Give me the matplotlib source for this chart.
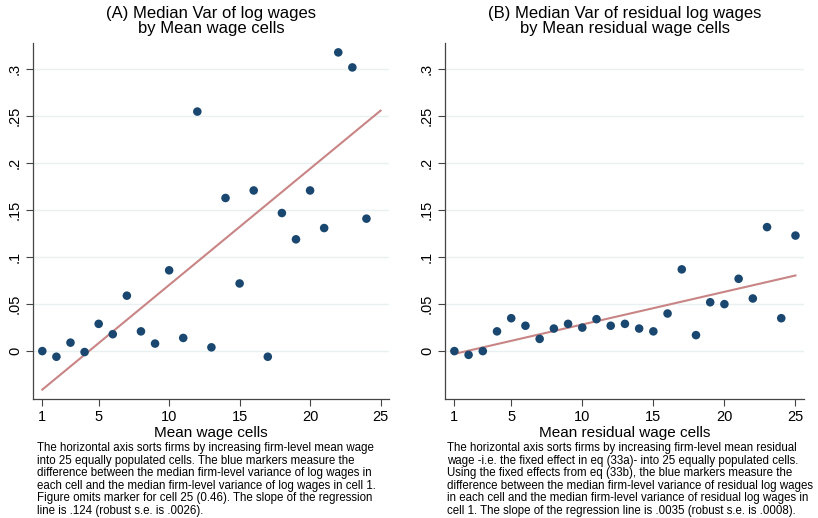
import matplotlib.pyplot as plt

plt.rcParams['font.family'] = ['Liberation Sans', 'DejaVu Sans']

cells_a = list(range(1, 25))
var_a = [0.0, -0.006, 0.009, -0.001, 0.029, 0.018, 0.059, 0.021, 0.008, 0.086,
         0.014, 0.255, 0.004, 0.163, 0.072, 0.171, -0.006, 0.147, 0.119, 0.171,
         0.131, 0.318, 0.302, 0.141]
fit_x_a = [1, 25]
fit_y_a = [-0.041, 0.256]

cells_b = list(range(1, 26))
var_b = [0.0, -0.004, 0.0, 0.021, 0.035, 0.027, 0.013, 0.024, 0.029, 0.025,
         0.034, 0.027, 0.029, 0.024, 0.021, 0.040, 0.087, 0.017, 0.052, 0.050,
         0.077, 0.056, 0.132, 0.035, 0.123]
fit_x_b = [1, 25]
fit_y_b = [-0.003, 0.0805]

xticks = [1, 5, 10, 15, 20, 25]
yticks = [0, 0.05, 0.1, 0.15, 0.2, 0.25, 0.3]
ylabels = ['0', '.05', '.1', '.15', '.2', '.25', '.3']

titles = ['(A) Median Var of log wages\nby Mean wage cells',
          '(B) Median Var of residual log wages\nby Mean residual wage cells']
xlabels = ['Mean wage cells', 'Mean residual wage cells']
notes = [
    "The horizontal axis sorts firms by increasing firm-level mean wage\n"
    "into 25 equally populated cells. The blue markers measure the\n"
    "difference between the median firm-level variance of log wages in\n"
    "each cell and the median firm-level variance of log wages in cell 1.\n"
    "Figure omits marker for cell 25 (0.46). The slope of the regression\n"
    "line is .124 (robust s.e. is .0026).",
    "The horizontal axis sorts firms by increasing firm-level mean residual\n"
    "wage -i.e. the fixed effect in eq (33a)- into 25 equally populated cells.\n"
    "Using the fixed effects from eq (33b), the blue markers measure the\n"
    "difference between the median firm-level variance of residual log wages\n"
    "in each cell and the median firm-level variance of residual log wages in\n"
    "cell 1. The slope of the regression line is .0035 (robust s.e. is .0008).",
]

W, H = 818, 518
fig = plt.figure(figsize=(W / 100, H / 100), dpi=100)

# axes boxes in pixels: left, top, right, bottom
boxes = [(33, 43, 389, 399), (445, 43, 804, 399)]
data = [(cells_a, var_a, fit_x_a, fit_y_a), (cells_b, var_b, fit_x_b, fit_y_b)]
note_x = [37, 447]

for i in range(2):
    l, t, r, b = boxes[i]
    ax = fig.add_axes([l / W, 1 - b / H, (r - l) / W, (b - t) / H])
    cx, vy, fx, fy = data[i]
    for y in yticks:
        ax.axhline(y, color='#e8f0f2', lw=1, zorder=0)
    ax.plot(fx, fy, color='#c98585', lw=1.5, zorder=2)
    ax.scatter(cx, vy, s=38, color='#1a476f', edgecolors='none', zorder=3)
    ax.set_xlim(0.34, 25.6)
    ax.set_ylim(-0.051, 0.328)
    ax.set_xticks(xticks)
    ax.set_yticks(yticks)
    ax.set_yticklabels(ylabels, rotation=90, va='center')
    ax.tick_params(labelsize=10.5, length=5, width=0.8, color='#444444', pad=3)
    for s in ['top', 'right']:
        ax.spines[s].set_visible(False)
    for s in ['left', 'bottom']:
        ax.spines[s].set_color('#444444')
        ax.spines[s].set_linewidth(0.9)
    ax.set_xlabel(xlabels[i], fontsize=11, labelpad=1)
    ax.set_title(titles[i], fontsize=12, linespacing=1.05, pad=7)
    fig.text(note_x[i] / W, 1 - 442 / H, notes[i], fontsize=8.3,
             va='top', ha='left', linespacing=1.06)

fig.savefig('out.png', dpi=100)
